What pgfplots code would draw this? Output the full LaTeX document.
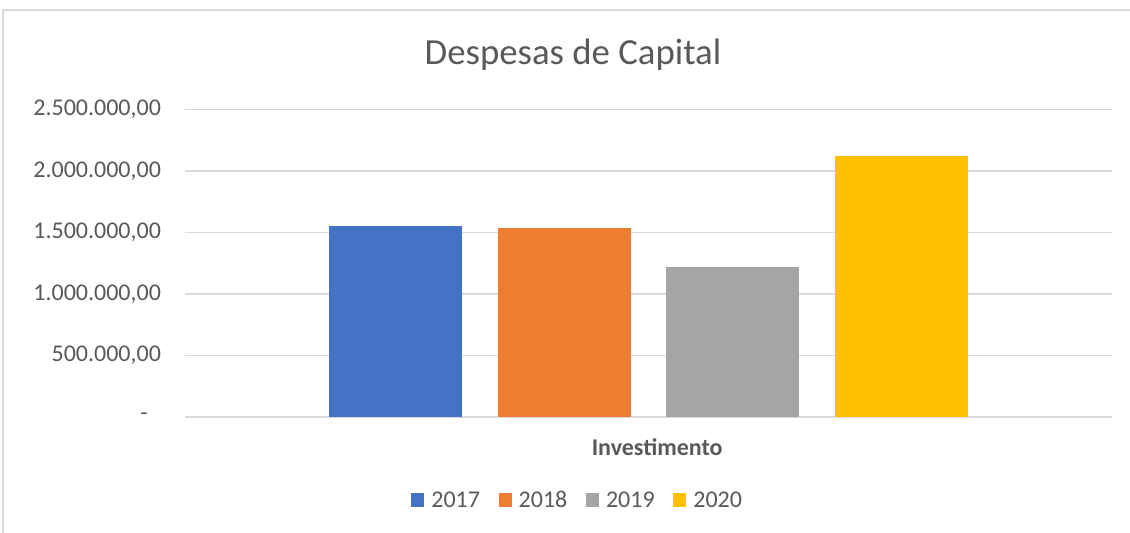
\documentclass[border=0pt]{standalone}
\usepackage{pgfplots}
\pgfplotsset{compat=1.18}
\usepackage{fontspec}
\setmainfont{Carlito}
\definecolor{c17}{HTML}{4472C4}
\definecolor{c18}{HTML}{ED7D31}
\definecolor{c19}{HTML}{A5A5A5}
\definecolor{c20}{HTML}{FFC000}
\definecolor{txt}{HTML}{595959}
\definecolor{gridc}{HTML}{D9D9D9}
\begin{document}
\begin{tikzpicture}[x=0.75pt,y=-0.75pt]
\useasboundingbox (0,0) rectangle (1130,532);
\draw[gridc, line width=1.1pt] (3,545) -- (3,10) -- (1145,10);
\node[txt, font=\fontsize{27.6}{32}\selectfont] at (573,55) {Despesas de Capital};
\begin{axis}[
  at={(138.75pt,-312.75pt)}, anchor=south west,
  scale only axis, width=695.25pt, height=230.6pt,
  ybar=26.6pt, bar width=99.75pt,
  xmin=-1, xmax=1, ymin=0, ymax=2500000,
  scaled y ticks=false,
  xtick={0}, xticklabels={\bfseries Investimento},
  ytick={0,500000,1000000,1500000,2000000,2500000},
  yticklabels={{-\hspace*{10pt}},{500.000,00},{1.000.000,00},{1.500.000,00},{2.000.000,00},{2.500.000,00}},
  major tick length=0pt,
  axis line style={draw=none},
  ymajorgrids, grid style={gridc, line width=1pt},
  tick label style={txt, font=\fontsize{18}{22}\selectfont},
  yticklabel style={xshift=-14.5pt},
  xticklabel style={yshift=-12.5pt, xshift=6.5pt},
  every axis plot/.append style={draw=none,
    legend image code/.code={\fill[##1] (0pt,-4.9pt) rectangle (9.75pt,4.9pt); \path (13pt,0pt);}},
  legend columns=4,
  legend style={at={(0.424,-0.27)}, anchor=center, draw=none, fill=none,
    font=\fontsize{18}{22}\selectfont, text=txt,
    nodes={text height=12pt, text depth=1pt},
    /tikz/every even column/.append style={column sep=12pt}},
]
\addplot[fill=c17] coordinates {(0,1553000)};
\addplot[fill=c18] coordinates {(0,1537000)};
\addplot[fill=c19] coordinates {(0,1217000)};
\addplot[fill=c20] coordinates {(0,2122000)};
\legend{2017,2018,2019,2020}
\end{axis}
\end{tikzpicture}
\end{document}
